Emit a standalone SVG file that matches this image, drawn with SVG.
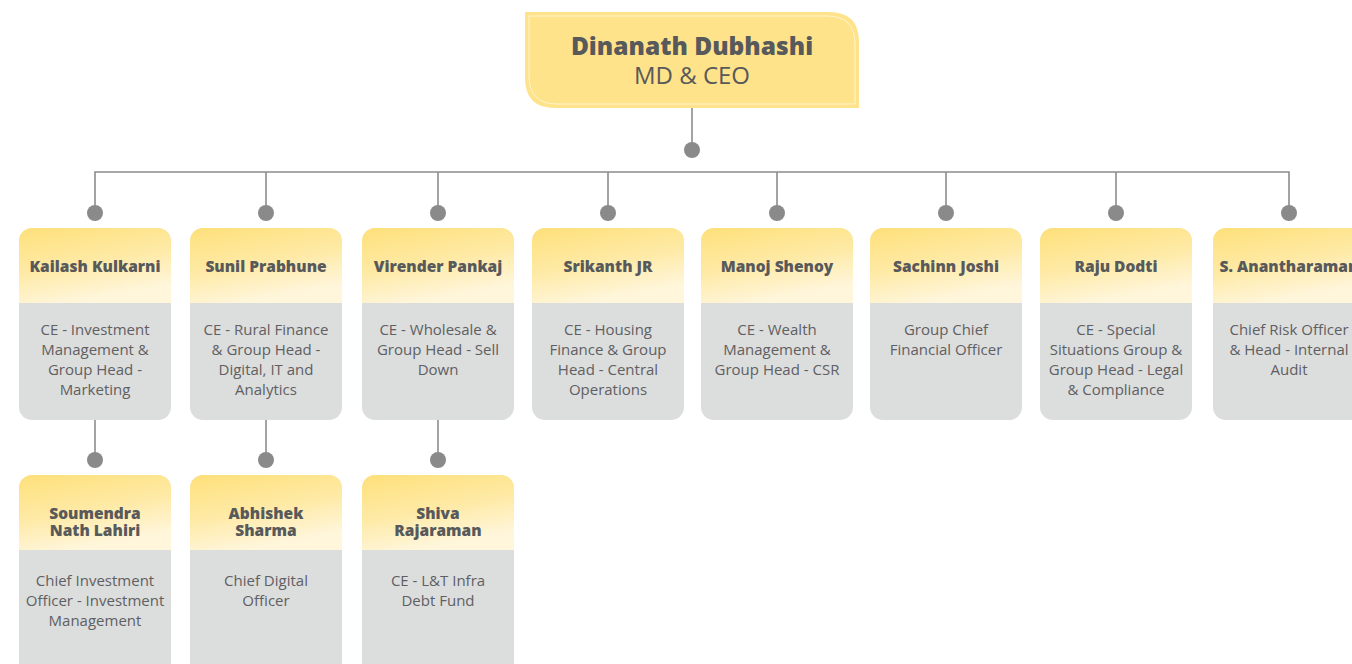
<svg xmlns="http://www.w3.org/2000/svg" width="1352" height="664" viewBox="0 0 1352 664">
  <defs>
    <linearGradient id="hdr" x1="0" y1="0" x2="0.35" y2="1">
      <stop offset="0" stop-color="#fee07a"/>
      <stop offset="0.55" stop-color="#feeaa6"/>
      <stop offset="1" stop-color="#fff6dc"/>
    </linearGradient>
    <clipPath id="cardClip">
      <rect x="0" y="0" width="152" height="300" rx="13"/>
    </clipPath>
  </defs>
  <style>
    .line { stroke: #8c8c8c; stroke-width: 1.6; fill: none; }
    .dot { fill: #8a8a8a; }
    .head { fill: url(#hdr); }
    .body { fill: #dcdddd; }
    .name { font-family: "Open Sans", "Noto Sans", sans-serif; font-weight: 800; font-size: 15.5px; fill: #58595b; text-anchor: middle; }
    .role { font-family: "Open Sans", "Noto Sans", sans-serif; font-size: 15px; fill: #5f6062; text-anchor: middle; }
    .ceo-name { font-family: "Open Sans", "Noto Sans", sans-serif; font-weight: 800; font-size: 24.5px; fill: #58595b; text-anchor: middle; }
    .ceo-role { font-family: "Open Sans", "Noto Sans", sans-serif; font-size: 24px; fill: #58595b; text-anchor: middle; }
  </style>

  <!-- connectors -->
  <g id="connectors">
    <line class="line" x1="692" y1="108" x2="692" y2="150"/>
    <circle class="dot" cx="692" cy="150" r="8"/>
    <polyline class="line" points="95,213 95,172 1289,172 1289,213"/>
    <line class="line" x1="266" y1="172" x2="266" y2="213"/>
    <line class="line" x1="438" y1="172" x2="438" y2="213"/>
    <line class="line" x1="608" y1="172" x2="608" y2="213"/>
    <line class="line" x1="777" y1="172" x2="777" y2="213"/>
    <line class="line" x1="946" y1="172" x2="946" y2="213"/>
    <line class="line" x1="1116" y1="172" x2="1116" y2="213"/>
    <circle class="dot" cx="95" cy="213" r="8"/>
    <circle class="dot" cx="266" cy="213" r="8"/>
    <circle class="dot" cx="438" cy="213" r="8"/>
    <circle class="dot" cx="608" cy="213" r="8"/>
    <circle class="dot" cx="777" cy="213" r="8"/>
    <circle class="dot" cx="946" cy="213" r="8"/>
    <circle class="dot" cx="1116" cy="213" r="8"/>
    <circle class="dot" cx="1289" cy="213" r="8"/>
    <line class="line" x1="95" y1="420" x2="95" y2="460"/>
    <line class="line" x1="266" y1="420" x2="266" y2="460"/>
    <line class="line" x1="438" y1="420" x2="438" y2="460"/>
    <circle class="dot" cx="95" cy="460" r="8"/>
    <circle class="dot" cx="266" cy="460" r="8"/>
    <circle class="dot" cx="438" cy="460" r="8"/>
  </g>

  <!-- top node -->
  <g id="ceo">
    <path d="M525,12 H829 Q859,12 859,42 V108 H555 Q525,108 525,78 Z" fill="#fee38a"/>
    <path d="M529,16 H827 Q855,16 855,44 V104 H557 Q529,104 529,76 Z" fill="none" stroke="#fff4cf" stroke-width="1"/>
    <text class="ceo-name" x="692" y="55">Dinanath Dubhashi</text>
    <text class="ceo-role" x="692" y="84">MD &amp; CEO</text>
  </g>

  <!-- first row -->
  <g id="kailash" transform="translate(19,228)">
    <g clip-path="url(#cardClip)">
      <rect class="body" x="0" y="0" width="152" height="192" rx="13"/>
      <rect class="head" x="0" y="0" width="152" height="75"/>
    </g>
    <text class="name" x="76" y="44">Kailash Kulkarni</text>
    <text class="role" x="76" y="107">CE - Investment</text>
    <text class="role" x="76" y="127">Management &amp;</text>
    <text class="role" x="76" y="147">Group Head -</text>
    <text class="role" x="76" y="167">Marketing</text>
  </g>
  <g id="sunil" transform="translate(190,228)">
    <g clip-path="url(#cardClip)">
      <rect class="body" x="0" y="0" width="152" height="192" rx="13"/>
      <rect class="head" x="0" y="0" width="152" height="75"/>
    </g>
    <text class="name" x="76" y="44">Sunil Prabhune</text>
    <text class="role" x="76" y="107">CE - Rural Finance</text>
    <text class="role" x="76" y="127">&amp; Group Head -</text>
    <text class="role" x="76" y="147">Digital, IT and</text>
    <text class="role" x="76" y="167">Analytics</text>
  </g>
  <g id="virender" transform="translate(362,228)">
    <g clip-path="url(#cardClip)">
      <rect class="body" x="0" y="0" width="152" height="192" rx="13"/>
      <rect class="head" x="0" y="0" width="152" height="75"/>
    </g>
    <text class="name" x="76" y="44">Virender Pankaj</text>
    <text class="role" x="76" y="107">CE - Wholesale &amp;</text>
    <text class="role" x="76" y="127">Group Head - Sell</text>
    <text class="role" x="76" y="147">Down</text>
  </g>
  <g id="srikanth" transform="translate(532,228)">
    <g clip-path="url(#cardClip)">
      <rect class="body" x="0" y="0" width="152" height="192" rx="13"/>
      <rect class="head" x="0" y="0" width="152" height="75"/>
    </g>
    <text class="name" x="76" y="44">Srikanth JR</text>
    <text class="role" x="76" y="107">CE - Housing</text>
    <text class="role" x="76" y="127">Finance &amp; Group</text>
    <text class="role" x="76" y="147">Head - Central</text>
    <text class="role" x="76" y="167">Operations</text>
  </g>
  <g id="manoj" transform="translate(701,228)">
    <g clip-path="url(#cardClip)">
      <rect class="body" x="0" y="0" width="152" height="192" rx="13"/>
      <rect class="head" x="0" y="0" width="152" height="75"/>
    </g>
    <text class="name" x="76" y="44">Manoj Shenoy</text>
    <text class="role" x="76" y="107">CE - Wealth</text>
    <text class="role" x="76" y="127">Management &amp;</text>
    <text class="role" x="76" y="147">Group Head - CSR</text>
  </g>
  <g id="sachinn" transform="translate(870,228)">
    <g clip-path="url(#cardClip)">
      <rect class="body" x="0" y="0" width="152" height="192" rx="13"/>
      <rect class="head" x="0" y="0" width="152" height="75"/>
    </g>
    <text class="name" x="76" y="44">Sachinn Joshi</text>
    <text class="role" x="76" y="107">Group Chief</text>
    <text class="role" x="76" y="127">Financial Officer</text>
  </g>
  <g id="raju" transform="translate(1040,228)">
    <g clip-path="url(#cardClip)">
      <rect class="body" x="0" y="0" width="152" height="192" rx="13"/>
      <rect class="head" x="0" y="0" width="152" height="75"/>
    </g>
    <text class="name" x="76" y="44">Raju Dodti</text>
    <text class="role" x="76" y="107">CE - Special</text>
    <text class="role" x="76" y="127">Situations Group &amp;</text>
    <text class="role" x="76" y="147">Group Head - Legal</text>
    <text class="role" x="76" y="167">&amp; Compliance</text>
  </g>
  <g id="anantharaman" transform="translate(1213,228)">
    <g clip-path="url(#cardClip)">
      <rect class="body" x="0" y="0" width="152" height="192" rx="13"/>
      <rect class="head" x="0" y="0" width="152" height="75"/>
    </g>
    <text class="name" x="76" y="44">S. Anantharaman</text>
    <text class="role" x="76" y="107">Chief Risk Officer</text>
    <text class="role" x="76" y="127">&amp; Head - Internal</text>
    <text class="role" x="76" y="147">Audit</text>
  </g>

  <!-- second row -->
  <g id="soumendra" transform="translate(19,475)">
    <g clip-path="url(#cardClip)">
      <rect class="body" x="0" y="0" width="152" height="210" rx="13"/>
      <rect class="head" x="0" y="0" width="152" height="75"/>
    </g>
    <text class="name" x="76" y="44">Soumendra</text>
    <text class="name" x="76" y="61">Nath Lahiri</text>
    <text class="role" x="76" y="111">Chief Investment</text>
    <text class="role" x="76" y="131">Officer - Investment</text>
    <text class="role" x="76" y="151">Management</text>
  </g>
  <g id="abhishek" transform="translate(190,475)">
    <g clip-path="url(#cardClip)">
      <rect class="body" x="0" y="0" width="152" height="210" rx="13"/>
      <rect class="head" x="0" y="0" width="152" height="75"/>
    </g>
    <text class="name" x="76" y="44">Abhishek</text>
    <text class="name" x="76" y="61">Sharma</text>
    <text class="role" x="76" y="111">Chief Digital</text>
    <text class="role" x="76" y="131">Officer</text>
  </g>
  <g id="shiva" transform="translate(362,475)">
    <g clip-path="url(#cardClip)">
      <rect class="body" x="0" y="0" width="152" height="210" rx="13"/>
      <rect class="head" x="0" y="0" width="152" height="75"/>
    </g>
    <text class="name" x="76" y="44">Shiva</text>
    <text class="name" x="76" y="61">Rajaraman</text>
    <text class="role" x="76" y="111">CE - L&amp;T Infra</text>
    <text class="role" x="76" y="131">Debt Fund</text>
  </g>
</svg>
